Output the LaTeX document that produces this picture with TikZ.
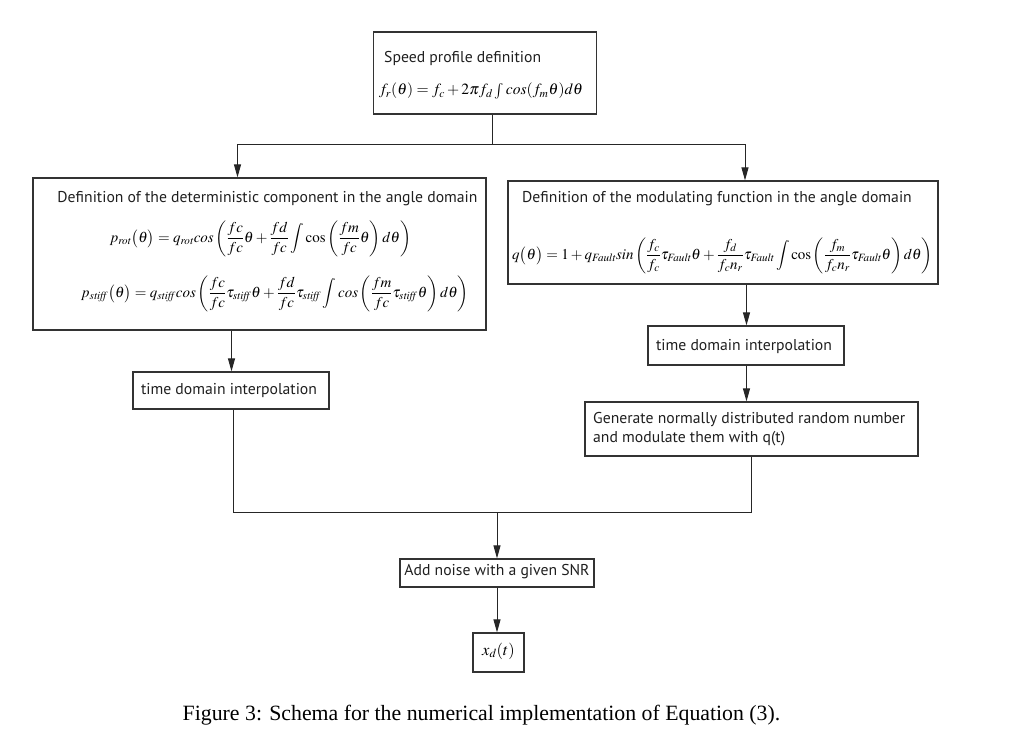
\documentclass[tikz,border=0pt]{standalone}
\usepackage{mathptmx}
\usepackage{fontspec}
\setmainfont{Liberation Serif}
\newfontfamily\boxfont{PT Sans}
\usetikzlibrary{arrows.meta}
\begin{document}
\begin{tikzpicture}[x=1pt,y=-1pt,
  box/.style={draw=black!80, line width=1.2pt, inner sep=0pt},
  conn/.style={line width=1pt, draw=black!85},
  arr/.style={conn, -{Triangle[length=13pt,width=7pt]}},
  lbl/.style={font=\boxfont\fontsize{15.7}{19.5}\selectfont, text=black!88, inner sep=0pt},
  eqn/.style={font=\fontsize{15}{18}\selectfont, inner sep=0pt}]
\useasboundingbox (0,0) rectangle (1030,742);

% boxes
\node[box, minimum width=223pt, minimum height=82pt] (top) at (485,73) {};
\node[box, minimum width=453pt, minimum height=152pt] (left) at (259.5,254) {};
\node[box, minimum width=430pt, minimum height=103pt] (right) at (723,232.5) {};
\node[box, minimum width=196pt, minimum height=37pt] (ltime) at (231,390.5) {};
\node[box, minimum width=196pt, minimum height=39pt] (rtime) at (746,345.5) {};
\node[box, minimum width=333pt, minimum height=54pt] (gen) at (751.5,429) {};
\node[box, minimum width=194pt, minimum height=28pt] (noise) at (497,573) {};
\node[box, minimum width=51pt, minimum height=39pt] (xd) at (498.5,652.5) {};

% texts
\node[lbl, anchor=west] (ttop) at (384,58) {Speed profile definition};
\node[eqn, font=\fontsize{15.6}{18}\selectfont] (etop) at (481,91) {$f_r(\theta)=f_c+2\pi f_d\int cos(f_m\theta)d\theta$};

\node[lbl] (tleft) at (267.5,199) {Definition of the deterministic component in the angle domain};
\node[eqn] (eleft1) at (260.5,238.5) {$\displaystyle p_{\mathit{rot}}\big(\theta\big)=q_{\mathit{rot}}cos\left(\frac{fc}{fc}\theta+\frac{fd}{fc}\int \mathrm{cos}\left(\frac{fm}{fc}\theta\right)d\theta\right)$};
\node[eqn] (eleft2) at (275,293.5) {$\displaystyle p_{\mathit{stiff}}\big(\theta\big)=q_{\mathit{stiff}}cos\left(\frac{fc}{fc}\tau_{\mathit{stiff}}\theta+\frac{fd}{fc}\tau_{\mathit{stiff}}\int cos\left(\frac{fm}{fc}\tau_{\mathit{stiff}}\theta\right)d\theta\right)$};

\node[lbl] (tright) at (717,199) {Definition of the modulating function in the angle domain};
\node[eqn] (eright) at (722.5,255.5) {$\displaystyle q\big(\theta\big)=1+q_{\mathit{Fault}}sin\left(\frac{f_c}{f_c}\tau_{\mathit{Fault}}\theta+\frac{f_d}{f_cn_r}\tau_{\mathit{Fault}}\int \mathrm{cos}\left(\frac{f_m}{f_cn_r}\tau_{\mathit{Fault}}\theta\right)d\theta\right)$};

\node[lbl] (tltime) at (229,390.5) {time domain interpolation};
\node[lbl] (trtime) at (744,346.5) {time domain interpolation};
\node[lbl, anchor=west, align=left] (tgen) at (593,429) {Generate normally distributed random number\\and modulate them with q(t)};
\node[lbl] (tnoise) at (497,572) {Add noise with a given SNR};
\node[eqn, font=\fontsize{16.5}{19}\selectfont] (txd) at (498.5,651) {$x_d(t)$};

\node[font=\fontsize{21.8}{26}\selectfont, inner sep=0pt] (cap) at (481.5,715) {Figure 3: Schema for the numerical implementation of Equation (3).};

% connectors
\coordinate (split) at (492,144);
\coordinate (sl) at (237.5,144);
\coordinate (sr) at (745,144);
\draw[conn] (top.south -| split) -- (split);
\draw[conn] (sl) -- (sr);
\draw[arr] (sl) -- (sl |- left.north);
\draw[arr] (sr) -- (sr |- right.north);

\coordinate (la) at (231.5,0);
\draw[arr] (left.south -| la) -- (ltime.north -| la);
\coordinate (ra) at (746.5,0);
\draw[arr] (right.south -| ra) -- (rtime.north -| ra);
\draw[arr] (rtime.south -| ra) -- (gen.north -| ra);

\coordinate (jl) at (233,512);
\coordinate (jr) at (751,512);
\coordinate (jm) at (497,512);
\draw[conn] (ltime.south -| jl) -- (jl) -- (jr) -- (gen.south -| jr);
\draw[arr] (jm) -- (noise.north);
\draw[arr] (noise.south) -- (xd.north -| noise.south);
\end{tikzpicture}
\end{document}
